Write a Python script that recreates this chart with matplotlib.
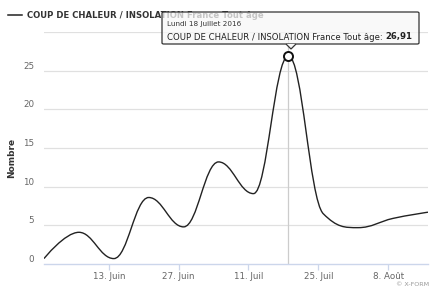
import matplotlib.pyplot as plt
import numpy as np
from matplotlib.path import Path
from matplotlib.patches import PathPatch, FancyBboxPatch, Polygon
import datetime as dt

# Données hebdomadaires (lundis)
start = dt.date(2016, 5, 30)
weeks = np.arange(12)
values = [0.7, 4.1, 0.7, 8.6, 4.8, 13.2, 9.1, 26.91, 6.5, 4.7, 5.9, 6.7]
tick_dates = [dt.date(2016, 6, 13), dt.date(2016, 6, 27), dt.date(2016, 7, 11),
              dt.date(2016, 7, 25), dt.date(2016, 8, 8)]
tick_labels = ["13. Juin", "27. Juin", "11. Juil", "25. Juil", "8. Août"]
yticks = [0, 5, 10, 15, 20, 25, 30]
series_name = "COUP DE CHALEUR / INSOLATION France Tout âge"
hover_idx = 7
hover_label = "Lundi 18 Juillet 2016"

# décalage horaire des points (affichés ~1 jour après minuit UTC)
shift = 1.0
xs = np.array([(start - dt.date(2016, 5, 30)).days + 7 * w + shift for w in weeks], dtype=float)
ys = np.array(values, dtype=float)


def spline_path(x, y, smoothing=1.5):
    """Courbe type Highcharts 'spline'"""
    denom = smoothing + 1
    n = len(x)
    lc = [(x[i], y[i]) for i in range(n)]
    rc = [(x[i], y[i]) for i in range(n)]
    for i in range(1, n - 1):
        px, py = x[i], y[i]
        lx, ly = x[i - 1], y[i - 1]
        nx, ny = x[i + 1], y[i + 1]
        lcx = (smoothing * px + lx) / denom
        lcy = (smoothing * py + ly) / denom
        rcx = (smoothing * px + nx) / denom
        rcy = (smoothing * py + ny) / denom
        corr = (rcy - lcy) * (rcx - px) / (rcx - lcx) + py - rcy
        lcy += corr
        rcy += corr
        if lcy > ly and lcy > py:
            lcy = max(ly, py)
            rcy = 2 * py - lcy
        elif lcy < ly and lcy < py:
            lcy = min(ly, py)
            rcy = 2 * py - lcy
        if rcy > ny and rcy > py:
            rcy = max(ny, py)
            lcy = 2 * py - rcy
        elif rcy < ny and rcy < py:
            rcy = min(ny, py)
            lcy = 2 * py - rcy
        lc[i] = (lcx, lcy)
        rc[i] = (rcx, rcy)
    verts = [(x[0], y[0])]
    codes = [Path.MOVETO]
    for i in range(1, n):
        verts += [rc[i - 1], lc[i], (x[i], y[i])]
        codes += [Path.CURVE4] * 3
    return Path(verts, codes)


fig = plt.figure(figsize=(4.35, 2.91), dpi=100)
ax = fig.add_axes([44 / 435, 27 / 291, 384 / 435, 232 / 291])

ax.set_xlim(xs[0], xs[-1])
ax.set_ylim(0, 30)
for v in yticks[1:]:
    ax.axhline(v, color='#e0e0e0', lw=0.9, zorder=0)

# crosshair
ax.axvline(xs[hover_idx], color='#cccccc', lw=0.9, zorder=1)

ax.add_patch(PathPatch(spline_path(xs, ys), facecolor='none', edgecolor='#222222', lw=1.0, zorder=3))
ax.plot(xs[hover_idx], ys[hover_idx], 'o', ms=6.5, mfc='white', mec='#111111', mew=1.4, zorder=4)

for s in ['top', 'right', 'left']:
    ax.spines[s].set_visible(False)
ax.spines['bottom'].set_color('#ccd6eb')
ax.spines['bottom'].set_linewidth(1.0)

ax.set_yticks(yticks)
ax.set_yticklabels([str(v) for v in yticks[:-1]] + [""], fontsize=6.3, color='#666666')
ax.tick_params(axis='y', length=0, pad=7)
for lab in ax.get_yticklabels():
    lab.set_verticalalignment('bottom')

tick_pos = [(d - dt.date(2016, 5, 30)).days for d in tick_dates]
ax.set_xticks(tick_pos)
ax.set_xticklabels(tick_labels, fontsize=6.3, color='#666666')
ax.tick_params(axis='x', length=4, width=0.9, color='#ccd6eb', pad=2)

fig.text(12 / 435, 1 - 158 / 291, "Nombre", rotation=90, fontsize=6.5, fontweight='bold',
         color='#333333', ha='center', va='center')

# légende
fig.add_artist(plt.Line2D([8 / 435, 22 / 435], [1 - 15 / 291, 1 - 15 / 291], color='#222222', lw=1.1))
fig.text(27 / 435, 1 - 15 / 291, series_name, fontsize=6.1, fontweight='bold',
         color='#333333', ha='left', va='center')

# infobulle
bx0, bx1, by0, by1 = 162 / 435, 419 / 435, 1 - 44 / 291, 1 - 12 / 291
box = FancyBboxPatch((bx0, by0), bx1 - bx0, by1 - by0, boxstyle='round,pad=0,rounding_size=0.004',
                     transform=fig.transFigure, facecolor='#f7f7f7', alpha=0.75,
                     edgecolor='none', zorder=10)
fig.add_artist(box)
border = FancyBboxPatch((bx0, by0), bx1 - bx0, by1 - by0, boxstyle='round,pad=0,rounding_size=0.004',
                        transform=fig.transFigure, facecolor='none', edgecolor='#333333',
                        lw=0.9, zorder=11)
fig.add_artist(border)
tip = Polygon([(286 / 435, by0), (291 / 435, 1 - 49 / 291), (296 / 435, by0)],
              closed=False, transform=fig.transFigure, facecolor='#f7f7f7',
              edgecolor='#333333', lw=0.9, zorder=12)
fig.add_artist(tip)
fig.text(167 / 435, 1 - 24 / 291, hover_label, fontsize=5.2, color='#333333',
         ha='left', va='center', zorder=13)
t1 = fig.text(167 / 435, 1 - 37 / 291, series_name + ": ", fontsize=6.1, color='#222222',
              ha='left', va='center', zorder=13)
fig.canvas.draw()
bb = t1.get_window_extent()
fig.text(bb.x1 / 435, 1 - 37 / 291, f"{ys[hover_idx]:.2f}".replace('.', ','), fontsize=6.1,
         fontweight='bold', color='#222222', ha='left', va='center', zorder=13)

fig.text(429 / 435, 1 - 285 / 291, "© X-FORM", fontsize=4.6, color='#999999',
         ha='right', va='center')

fig.savefig("out.png", dpi=100)
